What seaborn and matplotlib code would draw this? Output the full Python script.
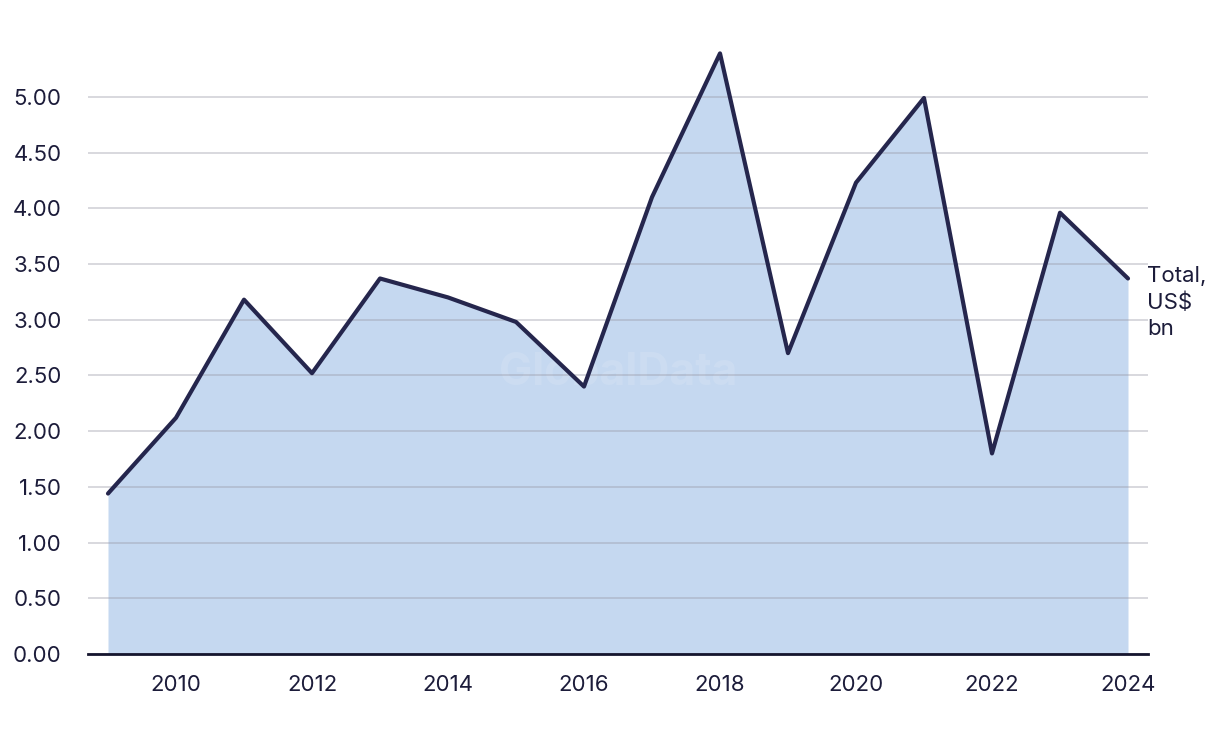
import matplotlib
matplotlib.use("Agg")
import matplotlib.pyplot as plt
import seaborn as sns
import pandas as pd

years = [2009, 2010, 2011, 2012, 2013, 2014, 2015, 2016, 2017, 2018, 2019, 2020, 2021, 2022, 2023, 2024]
values = [1.44, 2.12, 3.18, 2.52, 3.37, 3.20, 2.98, 2.40, 4.10, 5.39, 2.70, 4.23, 4.99, 1.80, 3.96, 3.37]
y_ticks = [0.0, 0.5, 1.0, 1.5, 2.0, 2.5, 3.0, 3.5, 4.0, 4.5, 5.0]
x_ticks = [2010, 2012, 2014, 2016, 2018, 2020, 2022, 2024]
series_label = "Total,\nUS$\nbn"

sns.set_theme(style="white")
plt.rcParams['font.family'] = ['Inter', 'DejaVu Sans']

text_color = "#1c1c3a"
line_color = "#25264d"
fill_color = "#c5d8f0"

df = pd.DataFrame({"year": years, "value": values})

fig = plt.figure(figsize=(12.2, 7.44), dpi=100)
ax = fig.add_axes([88 / 1220, 1 - 654 / 744, (1148 - 88) / 1220, (654 - 30) / 744])

ax.fill_between(df["year"], df["value"], 0, color=fill_color, linewidth=0, zorder=1)
sns.lineplot(data=df, x="year", y="value", ax=ax, color=line_color, linewidth=3, zorder=4)

ax.set_xlim(2009 - 20 / 68, 2024 + 20 / 68)
ax.set_ylim(0, 5.6)
ax.set_yticks(y_ticks)
ax.set_yticklabels([f"{v:.2f}" for v in y_ticks])
ax.set_xticks(x_ticks)
ax.set_xticklabels([str(x) for x in x_ticks])
ax.yaxis.grid(True, color="#9a9aa8", alpha=0.45, linewidth=1.2, zorder=3)
ax.set_axisbelow(False)
ax.xaxis.grid(False)
for s in ["top", "right", "left"]:
    ax.spines[s].set_visible(False)
ax.spines["bottom"].set_color("#15152e")
ax.spines["bottom"].set_linewidth(2)
ax.spines["bottom"].set_zorder(5)
ax.tick_params(axis="both", length=0, labelsize=16, colors=text_color)
ax.tick_params(axis="y", pad=19)
ax.tick_params(axis="x", pad=15)
ax.set_xlabel("")
ax.set_ylabel("")

ax.text(0.5, 0.45, "GlobalData", transform=ax.transAxes, ha="center", va="center",
        fontsize=32, fontweight="bold", color="white", alpha=0.12, zorder=2)

ax.annotate(series_label, xy=(years[-1], values[-1]), xytext=(14, 9), textcoords="offset points",
            ha="left", va="top", fontsize=16, color=text_color, linespacing=1.4,
            annotation_clip=False)

fig.savefig("out.png", dpi=100, facecolor="white")
